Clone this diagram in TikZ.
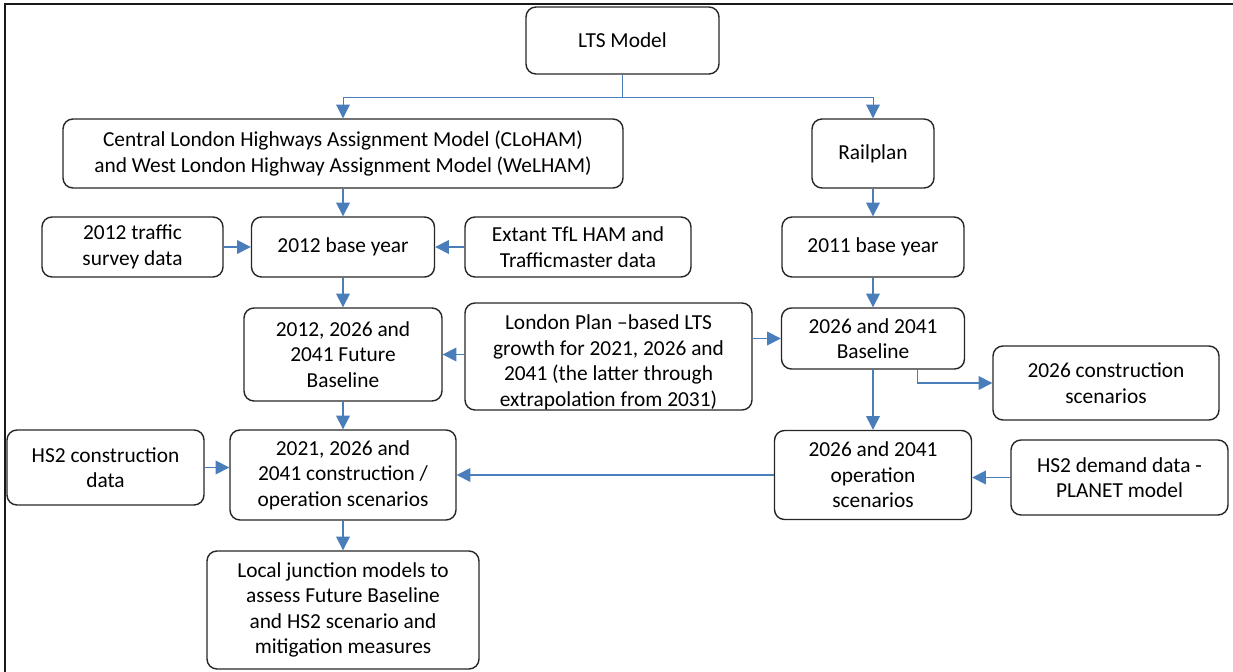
\documentclass[tikz,border=0pt]{standalone}
\usepackage{fontspec}
\setmainfont{Carlito}
\usetikzlibrary{positioning, arrows.meta}
\definecolor{linkblue}{RGB}{74,126,187}
\tikzset{
box/.style={draw=black!85, line width=1pt, rounded corners=0.25cm, align=center, inner sep=2pt,
    font=\fontsize{15.2}{18.2}\selectfont},
link/.style={draw=linkblue, line width=1.1pt, -{Triangle[length=0.34cm, width=0.34cm]}},
branch/.style={link, line width=0.7pt},
frame/.style={draw=black!90, line width=1.8pt},
}

\begin{document}
\begin{tikzpicture}
    \useasboundingbox (0,0) rectangle (30.825,16.8);

    % outer frame (top and left only)
    \draw[frame] (0.125,0) -- (0.125,16.7) -- (30.825,16.7);

    %top
    \node[box, minimum width=4.825cm, minimum height=1.675cm] (lts) at (15.5625,15.7875) {LTS Model};
    \coordinate (split) at (15.5625,14.375);

    %models
    \node[box, minimum width=14cm, minimum height=1.725cm] (cloham) at (8.575,12.9625)
        {Central London Highways Assignment Model (CLoHAM)\\and West London Highway Assignment Model (WeLHAM)};
    \node[box, minimum width=3.05cm, minimum height=1.725cm] (railplan) at (21.825,12.9625) {Railplan};

    %base years
    \node[box, minimum width=4.525cm, minimum height=1.5cm] (traffic) at (3.3125,10.625) {2012 traffic\\survey data};
    \node[box, minimum width=4.575cm, minimum height=1.5cm] (base2012) at (8.575,10.625) {2012 base year};
    \node[box, minimum width=5.65cm, minimum height=1.5cm] (extant) at (14.45,10.625) {Extant TfL HAM and\\Trafficmaster data};
    \node[box, minimum width=4.55cm, minimum height=1.5cm] (base2011) at (21.825,10.625) {2011 base year};

    %future baselines
    \node[box, minimum width=4.95cm, minimum height=2.325cm] (future) at (8.575,7.9375) {2012, 2026 and\\2041 Future\\Baseline};
    \node[box, inner ysep=0pt, minimum width=7.175cm, minimum height=2.675cm] (londonplan) at (15.2125,7.8875)
        {\rule{0pt}{0.66cm}London Plan --based LTS\\growth for 2021, 2026 and\\2041 (the latter through\\extrapolation from 2031)};
    \node[box, minimum width=4.575cm, minimum height=1.525cm] (baseline) at (21.825,8.3375) {2026 and 2041\\Baseline};
    \node[box, minimum width=5.65cm, minimum height=1.85cm] (constr2026) at (27.65,7.225) {2026 construction\\scenarios};

    %scenarios
    \node[box, minimum width=4.925cm, minimum height=1.875cm] (hs2constr) at (2.6375,5.1125) {HS2 construction\\data};
    \node[box, minimum width=5.65cm, minimum height=2.25cm] (scen) at (8.575,4.925) {2021, 2026 and\\2041 construction /\\operation scenarios};
    \node[box, minimum width=4.925cm, minimum height=2.225cm] (oper) at (21.825,4.925) {2026 and 2041\\operation\\scenarios};
    \node[box, minimum width=5.425cm, minimum height=1.875cm] (hs2demand) at (27.9875,4.8625) {HS2 demand data -\\PLANET model};

    %bottom
    \node[box, minimum width=6.8cm, minimum height=2.95cm] (local) at (8.575,1.55)
        {Local junction models to\\assess Future Baseline\\and HS2 scenario and\\mitigation measures};

    % split under LTS
    \draw[branch, -] (lts.south) -- (split);
    \draw[branch] (split) -| (cloham.north);
    \draw[branch] (split) -| (railplan.north);

    % highway side
    \draw[link] (cloham) -- (base2012);
    \draw[link] (traffic) -- (base2012);
    \draw[link] (extant) -- (base2012);
    \draw[link] (base2012) -- (future);
    \draw[link] (londonplan.west |- future) -- (future.east);
    \draw[link] (future) -- (scen);
    \draw[link] (hs2constr.east) -- (hs2constr.east -| scen.west);
    \draw[link] (scen) -- (local);

    % rail side
    \draw[link] (railplan) -- (base2011);
    \draw[link] (base2011) -- (baseline);
    \draw[link] (londonplan.east |- baseline) -- (baseline.west);
    \draw[link] (baseline) -- (oper);
    \draw[link] ([xshift=1.1125cm]baseline.south) |- (constr2026.west);
    \draw[link] (hs2demand.west) -- (hs2demand.west -| oper.east);
    \draw[link] (oper) -- (scen);
\end{tikzpicture}
\end{document}
